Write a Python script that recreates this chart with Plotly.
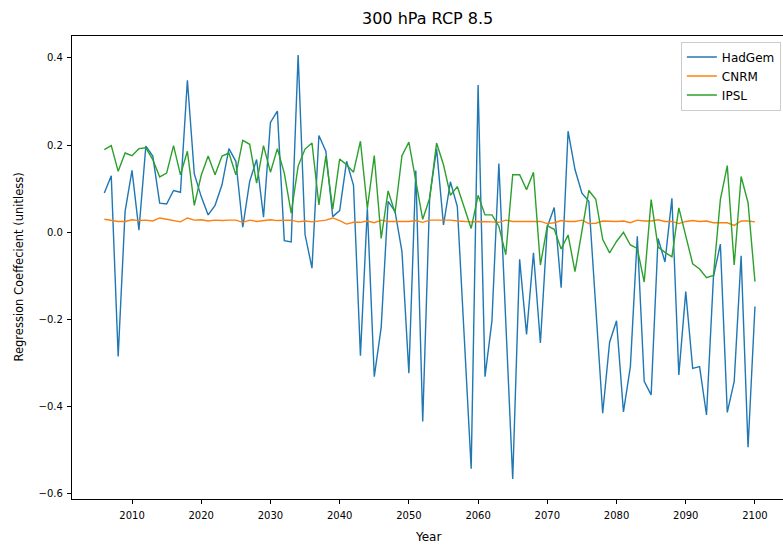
import plotly.graph_objects as go

# Regression coefficients at 300 hPa under RCP 8.5, one value per year
years = list(range(2006, 2101))

hadgem = [
    0.090, 0.130, -0.285, 0.048, 0.142, 0.005, 0.198, 0.175, 0.067, 0.065,
    0.096, 0.092, 0.349, 0.134, 0.082, 0.040, 0.062, 0.109, 0.192, 0.163,
    0.012, 0.117, 0.167, 0.035, 0.252, 0.278, -0.019, -0.022, 0.407, -0.005,
    -0.082, 0.222, 0.186, 0.036, 0.050, 0.163, 0.108, -0.283, 0.055, -0.331,
    -0.218, 0.071, 0.048, -0.044, -0.323, 0.142, -0.434, 0.080, 0.192, 0.017,
    0.116, 0.059, -0.240, -0.542, 0.338, -0.331, -0.203, 0.158, -0.205, -0.566,
    -0.062, -0.234, -0.047, -0.254, 0.013, 0.057, -0.127, 0.232, 0.144, 0.090,
    0.071, -0.172, -0.415, -0.252, -0.203, -0.412, -0.308, -0.009, -0.342, -0.373,
    -0.014, -0.068, 0.078, -0.327, -0.136, -0.312, -0.308, -0.419, -0.102, -0.027,
    -0.413, -0.342, -0.054, -0.493, -0.170,
]

cnrm = [
    0.030, 0.028, 0.025, 0.025, 0.029, 0.027, 0.028, 0.026, 0.033, 0.030,
    0.027, 0.024, 0.033, 0.028, 0.029, 0.026, 0.028, 0.027, 0.028, 0.028,
    0.023, 0.028, 0.025, 0.027, 0.029, 0.027, 0.028, 0.028, 0.024, 0.026,
    0.024, 0.026, 0.028, 0.033, 0.027, 0.019, 0.023, 0.023, 0.026, 0.022,
    0.028, 0.025, 0.025, 0.025, 0.025, 0.027, 0.023, 0.028, 0.028, 0.028,
    0.028, 0.026, 0.025, 0.024, 0.025, 0.025, 0.024, 0.023, 0.028, 0.025,
    0.025, 0.026, 0.025, 0.025, 0.020, 0.022, 0.027, 0.025, 0.025, 0.028,
    0.020, 0.021, 0.026, 0.025, 0.025, 0.026, 0.022, 0.028, 0.026, 0.026,
    0.029, 0.025, 0.025, 0.020, 0.025, 0.027, 0.025, 0.026, 0.022, 0.022,
    0.022, 0.016, 0.026, 0.026, 0.024,
]

ipsl = [
    0.190, 0.199, 0.140, 0.182, 0.176, 0.192, 0.194, 0.167, 0.127, 0.136,
    0.199, 0.132, 0.186, 0.062, 0.131, 0.175, 0.132, 0.175, 0.182, 0.132,
    0.211, 0.202, 0.113, 0.199, 0.138, 0.192, 0.136, 0.044, 0.152, 0.191,
    0.205, 0.063, 0.175, 0.053, 0.168, 0.155, 0.138, 0.209, 0.055, 0.176,
    -0.014, 0.095, 0.045, 0.176, 0.207, 0.121, 0.030, 0.078, 0.205, 0.155,
    0.085, 0.105, 0.059, 0.009, 0.085, 0.040, 0.040, 0.014, -0.051, 0.132,
    0.132, 0.098, 0.138, -0.075, 0.015, 0.007, -0.038, -0.006, -0.090, 0.004,
    0.096, 0.076, -0.016, -0.047, -0.021, 0.000, -0.029, -0.037, -0.114, 0.075,
    -0.034, -0.046, -0.056, 0.056, -0.007, -0.072, -0.084, -0.104, -0.099, 0.075,
    0.153, -0.075, 0.128, 0.068, -0.113,
]

series = [
    ("HadGem", hadgem, "#1f77b4"),
    ("CNRM", cnrm, "#ff7f0e"),
    ("IPSL", ipsl, "#2ca02c"),
]

x_ticks = [2010, 2020, 2030, 2040, 2050, 2060, 2070, 2080, 2090, 2100]
y_ticks = [-0.6, -0.4, -0.2, 0.0, 0.2, 0.4]

FONT = "DejaVu Sans, Verdana, sans-serif"

fig = go.Figure()
for name, values, color in series:
    fig.add_trace(go.Scatter(
        x=years, y=values, mode="lines", name=name,
        line=dict(color=color, width=1.4),
    ))

fig.update_layout(
    width=783, height=550,
    margin=dict(l=72.3, r=0, t=35.7, b=50.7),
    paper_bgcolor="white", plot_bgcolor="white",
    font=dict(family=FONT, color="black"),
    showlegend=True,
    legend=dict(
        x=0.997, y=0.988, xanchor="right", yanchor="top",
        bgcolor="rgba(255,255,255,0.8)", bordercolor="#cccccc", borderwidth=1,
        font=dict(family=FONT, size=12, color="black"),
        itemwidth=30, tracegroupgap=0,
    ),
    annotations=[
        dict(text="300 hPa RCP 8.5", xref="paper", yref="paper",
             x=0.5, y=1, yshift=18, xanchor="center", yanchor="middle",
             showarrow=False, font=dict(family=FONT, size=16, color="black")),
        dict(text="Year", xref="paper", yref="paper",
             x=0.5, y=0, yshift=-38, xanchor="center", yanchor="middle",
             showarrow=False, font=dict(family=FONT, size=12, color="black")),
        dict(text="Regression Coeffecient (unitless)", xref="paper", yref="paper",
             x=0, y=0.5, xshift=-54, xanchor="center", yanchor="middle",
             textangle=-90, showarrow=False,
             font=dict(family=FONT, size=11.5, color="black")),
    ],
)

fig.update_xaxes(
    range=[2001.33, 2104.05], tickmode="array", tickvals=x_ticks,
    ticks="outside", ticklen=4, tickwidth=1, tickcolor="black",
    showline=True, linecolor="black", linewidth=1.2, mirror=True,
    showgrid=False, zeroline=False, ticklabelstandoff=3,
    tickfont=dict(family=FONT, size=10, color="black"),
)
fig.update_yaxes(
    range=[-0.6117, 0.4504], tickmode="array", tickvals=y_ticks,
    tickformat=".1f",
    ticks="outside", ticklen=4, tickwidth=1, tickcolor="black",
    showline=True, linecolor="black", linewidth=1.2, mirror=False,
    showgrid=False, zeroline=False, ticklabelstandoff=2,
    tickfont=dict(family=FONT, size=10, color="black"),
)

fig.write_html("out.html")
